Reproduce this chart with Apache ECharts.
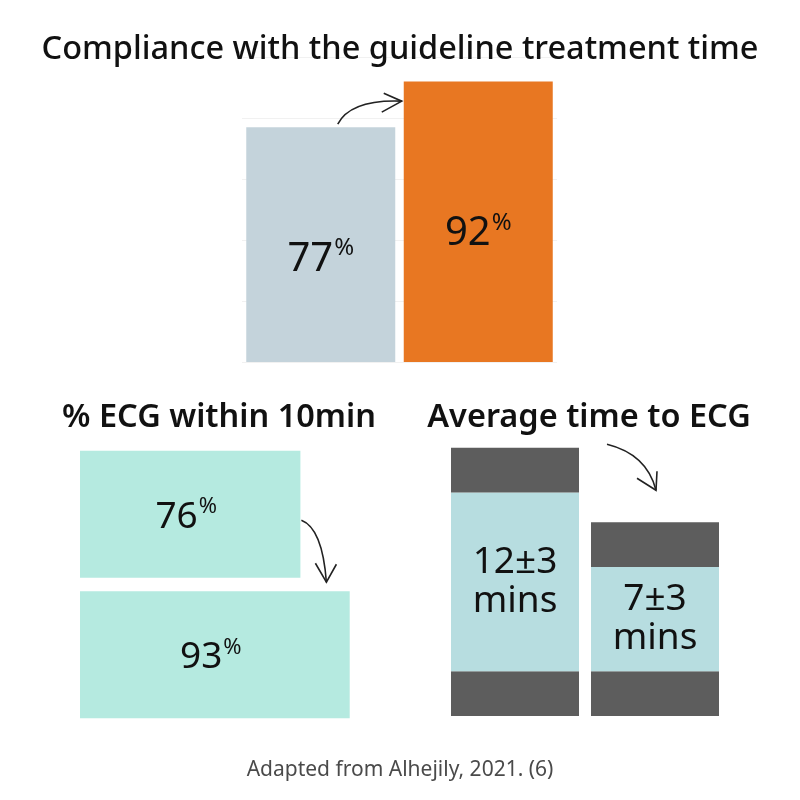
<!DOCTYPE html>
<html>
<head>
<meta charset="utf-8">
<script src="https://cdn.jsdelivr.net/npm/echarts@6/dist/echarts.min.js"></script>
<style>
  html, body { margin: 0; padding: 0; background: #fff; }
  #main { width: 800px; height: 800px; }
</style>
</head>
<body>
<div id="main"></div>
<script>
// compliance with guideline treatment time (%)
const complianceCats = ['Before', 'After'];
const complianceValues = [77, 92];
// % ECG within 10 min
const ecgCats = ['Before', 'After'];
const ecgValues = [76, 93];
// average time to ECG (mins), mean and sd
const timeCats = ['Before', 'After'];
const timeMeans = [12, 7];
const timeSd = [3, 3];

const FONT = 'Noto Sans';
const chart = echarts.init(document.getElementById('main'));

function pctLabel(size, supSize) {
  return {
    show: true,
    position: 'inside',
    formatter: p => '{n|' + p.value + '}{p|%}',
    rich: {
      n: { fontFamily: FONT, fontSize: size, color: '#111', lineHeight: size + 6 },
      p: { fontFamily: FONT, fontSize: supSize, color: '#111', verticalAlign: 'top', lineHeight: supSize + 2, padding: [0, 0, 0, 1] }
    }
  };
}

const subStyle = { fontFamily: FONT, fontSize: 32.5, fontWeight: 600, color: '#111' };

const option = {
  backgroundColor: '#ffffff',
  animation: false,
  title: [
    { text: 'Compliance with the guideline treatment time', left: 'center', top: 28,
      textStyle: { fontFamily: FONT, fontSize: 32.5, fontWeight: 500, color: '#111' } },
    { text: '% ECG within 10min', left: 214, top: 396, textAlign: 'center', textStyle: subStyle },
    { text: 'Average time to ECG', left: 584, top: 396, textAlign: 'center', textStyle: subStyle },
    { text: 'Adapted from Alhejily, 2021. (6)', left: 'center', top: 755,
      textStyle: { fontFamily: FONT, fontSize: 21, fontWeight: 'normal', color: '#4a4a4a' } }
  ],
  grid: [
    { left: 242, width: 315, top: 57, height: 305 },
    { left: 80, width: 290, top: 444, height: 281 },
    { left: 445, width: 280, top: 418, height: 298 }
  ],
  xAxis: [
    { gridIndex: 0, type: 'category', data: complianceCats, show: false },
    { gridIndex: 1, type: 'value', min: 0, max: 100, show: false },
    { gridIndex: 2, type: 'category', data: timeCats, show: false }
  ],
  yAxis: [
    { gridIndex: 0, type: 'value', min: 0, max: 100, interval: 20,
      axisLine: { show: false }, axisTick: { show: false }, axisLabel: { show: false },
      splitLine: { show: true, lineStyle: { color: '#f1f1f1', width: 1 } } },
    { gridIndex: 1, type: 'category', data: ecgCats, inverse: true, show: false },
    { gridIndex: 2, type: 'value', min: 0, max: 20, show: false, splitLine: { show: false } }
  ],
  series: [
    {
      type: 'bar', xAxisIndex: 0, yAxisIndex: 0, barWidth: 149,
      data: complianceValues.map((v, i) => ({
        value: v,
        itemStyle: { color: i === 0 ? '#c4d3db' : '#e87722' },
        label: { offset: [0, i === 0 ? 15 : 12] }
      })),
      label: pctLabel(40, 24)
    },
    {
      type: 'bar', xAxisIndex: 1, yAxisIndex: 1, barWidth: 127,
      itemStyle: { color: '#b5eae0' },
      data: ecgValues,
      label: Object.assign(pctLabel(37, 22), { offset: [-4, 3] })
    },
    {
      type: 'bar', xAxisIndex: 2, yAxisIndex: 2, stack: 'time', barWidth: 128,
      itemStyle: { color: '#5d5d5d' },
      data: timeSd
    },
    {
      type: 'bar', xAxisIndex: 2, yAxisIndex: 2, stack: 'time', barWidth: 128,
      itemStyle: { color: '#b7dde0' },
      data: timeMeans,
      label: {
        show: true, position: 'inside',
        formatter: p => p.value + '±' + timeSd[p.dataIndex] + '\nmins',
        fontFamily: FONT, fontSize: 37, lineHeight: 39, color: '#111'
      }
    },
    {
      type: 'bar', xAxisIndex: 2, yAxisIndex: 2, stack: 'time', barWidth: 128,
      itemStyle: { color: '#5d5d5d' },
      data: timeSd
    }
  ]
};
chart.setOption(option);

// hand-drawn style arrows, anchored to the bars
function arrow(start, cp, end, barbA, barbB) {
  const style = { stroke: '#222', lineWidth: 1.6, fill: null };
  return [
    { type: 'bezierCurve', shape: { x1: start[0], y1: start[1], cpx1: cp[0], cpy1: cp[1], x2: end[0], y2: end[1] }, style: style },
    { type: 'polyline', shape: { points: [barbA, end, barbB] }, style: style }
  ];
}
const a = chart.convertToPixel({ gridIndex: 0 }, [complianceCats[0], complianceValues[0]]);
const b = chart.convertToPixel({ xAxisIndex: 1, yAxisIndex: 1 }, [ecgValues[0], ecgCats[0]]);
const c = chart.convertToPixel({ xAxisIndex: 2, yAxisIndex: 2 }, [timeCats[1], timeMeans[1] + 2 * timeSd[1]]);
const els = [].concat(
  arrow([a[0] + 17, a[1] - 3], [a[0] + 30, a[1] - 28], [a[0] + 81, a[1] - 26], [a[0] + 63, a[1] - 34], [a[0] + 61, a[1] - 15]),
  arrow([b[0] + 1, b[1] + 6], [b[0] + 22, b[1] + 14], [b[0] + 26, b[1] + 68], [b[0] + 15, b[1] + 49], [b[0] + 36, b[1] + 50]),
  arrow([c[0] - 48, c[1] - 78], [c[0] - 8, c[1] - 68], [c[0] + 1, c[1] - 32], [c[0] - 18, c[1] - 44], [c[0] + 2, c[1] - 51])
);
chart.setOption({ graphic: { elements: els } });
</script>
</body>
</html>
